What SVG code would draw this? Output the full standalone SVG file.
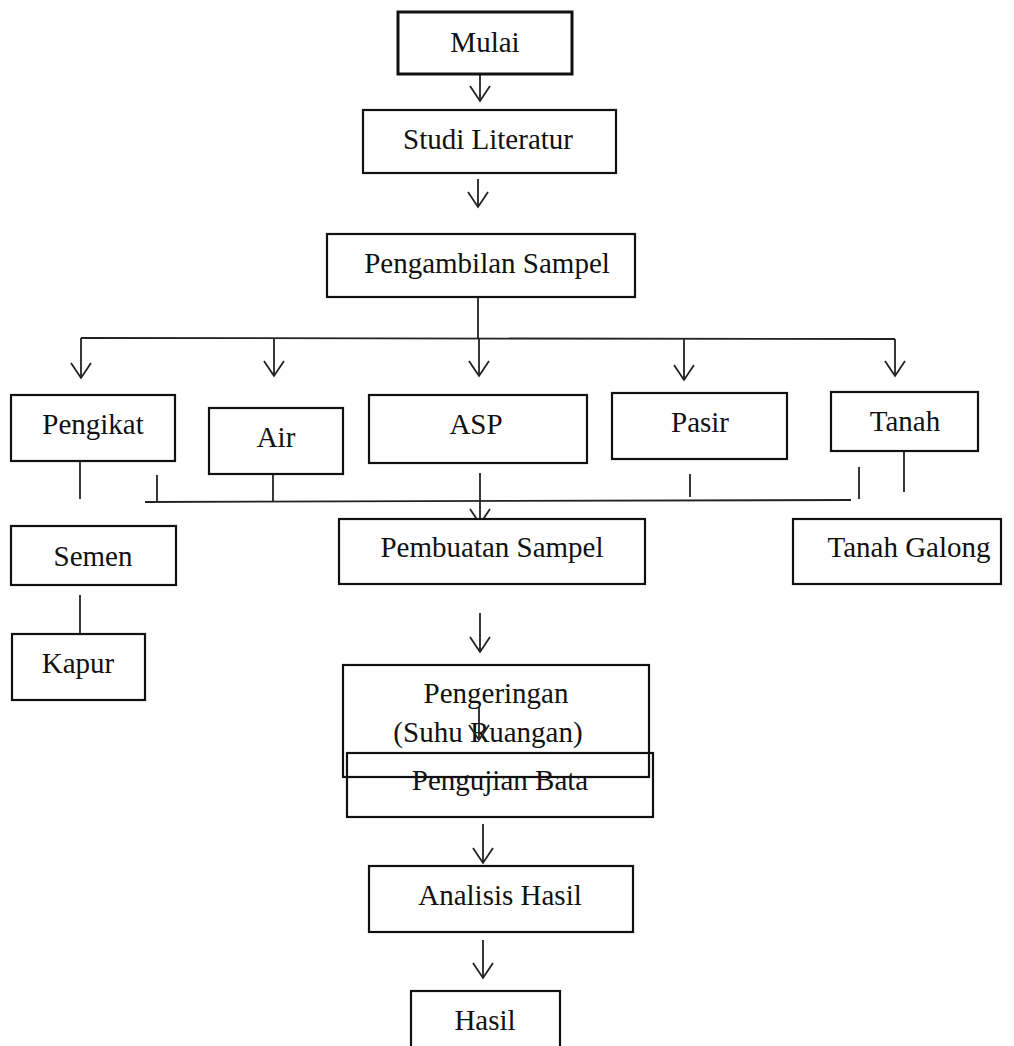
<svg xmlns="http://www.w3.org/2000/svg" width="1014" height="1046" viewBox="0 0 1014 1046">
<style>
.box{fill:#fff;stroke:#111;stroke-width:2.2}
.t{font-family:"Liberation Serif","Times New Roman",serif;font-size:29px;fill:#111;text-anchor:middle}
.c{fill:none;stroke:#222;stroke-width:1.8}
</style>
<defs>
<marker id="ah" markerWidth="20" markerHeight="24" refX="17" refY="11" viewBox="0 0 20 24" markerUnits="userSpaceOnUse" orient="auto">
<path d="M2,1 L17,11 L2,21" fill="none" stroke="#222" stroke-width="1.8"/>
</marker>
</defs>
<rect width="1014" height="1046" fill="#fff"/>
<g id="connectors">
<line class="c" x1="480" y1="74" x2="480" y2="101" marker-end="url(#ah)"/>
<line class="c" x1="478" y1="179" x2="478" y2="207" marker-end="url(#ah)"/>
<line class="c" x1="478" y1="297" x2="478" y2="339"/>
<line class="c" x1="81" y1="338" x2="895" y2="339"/>
<line class="c" x1="81" y1="338" x2="81" y2="378" marker-end="url(#ah)"/>
<line class="c" x1="274" y1="338" x2="274" y2="376" marker-end="url(#ah)"/>
<line class="c" x1="479" y1="338" x2="479" y2="376" marker-end="url(#ah)"/>
<line class="c" x1="684" y1="339" x2="684" y2="380" marker-end="url(#ah)"/>
<line class="c" x1="895" y1="339" x2="895" y2="376" marker-end="url(#ah)"/>
<line class="c" x1="80" y1="461" x2="80" y2="499"/>
<line class="c" x1="157" y1="475" x2="157" y2="502"/>
<line class="c" x1="273" y1="474" x2="273" y2="502"/>
<line class="c" x1="145" y1="502" x2="851" y2="500"/>
<line class="c" x1="480" y1="473" x2="480" y2="524" marker-end="url(#ah)"/>
<line class="c" x1="690" y1="474" x2="690" y2="497"/>
<line class="c" x1="859" y1="467" x2="859" y2="499"/>
<line class="c" x1="904" y1="452" x2="904" y2="492"/>
<line class="c" x1="80" y1="595" x2="80" y2="634"/>
<line class="c" x1="480" y1="613" x2="480" y2="652" marker-end="url(#ah)"/>
<line class="c" x1="483" y1="824" x2="483" y2="863" marker-end="url(#ah)"/>
<line class="c" x1="483" y1="940" x2="483" y2="978" marker-end="url(#ah)"/>
</g>
<g id="mulai"><rect class="box" x="398" y="12" width="174" height="62" style="stroke-width:3"/><text class="t" x="485" y="52">Mulai</text></g>
<g id="studi"><rect class="box" x="363" y="110" width="253" height="63"/><text class="t" x="488" y="149">Studi Literatur</text></g>
<g id="pengambilan"><rect class="box" x="327" y="234" width="308" height="63"/><text class="t" x="487" y="273">Pengambilan Sampel</text></g>
<g id="pengikat"><rect class="box" x="11" y="395" width="164" height="66"/><text class="t" x="93" y="434">Pengikat</text></g>
<g id="air"><rect class="box" x="209" y="408" width="134" height="66"/><text class="t" x="276" y="447">Air</text></g>
<g id="asp"><rect class="box" x="369" y="395" width="218" height="68"/><text class="t" x="476" y="434">ASP</text></g>
<g id="pasir"><rect class="box" x="612" y="393" width="175" height="66"/><text class="t" x="700" y="432">Pasir</text></g>
<g id="tanah"><rect class="box" x="831" y="392" width="147" height="59"/><text class="t" x="905" y="431">Tanah</text></g>
<g id="semen"><rect class="box" x="11" y="526" width="165" height="59"/><text class="t" x="93" y="566">Semen</text></g>
<g id="kapur"><rect class="box" x="12" y="634" width="133" height="66"/><text class="t" x="78" y="673">Kapur</text></g>
<g id="pembuatan"><rect class="box" x="339" y="519" width="306" height="65"/><text class="t" x="492" y="557">Pembuatan Sampel</text></g>
<g id="tanahgalong"><rect class="box" x="793" y="519" width="208" height="65"/><text class="t" x="909" y="557">Tanah Galong</text></g>
<g id="pengeringan"><rect class="box" x="343" y="665" width="306" height="112" style="fill:none"/><text class="t" x="496" y="703">Pengeringan</text><text class="t" x="488" y="742">(Suhu Ruangan)</text></g>
<g id="inner-arrow"><line class="c" x1="479" y1="707" x2="479" y2="740" marker-end="url(#ah)"/></g>
<g id="pengujian"><rect class="box" x="347" y="753" width="306" height="64" style="fill:none"/><text class="t" x="500" y="790">Pengujian Bata</text></g>
<g id="analisis"><rect class="box" x="369" y="866" width="264" height="66"/><text class="t" x="500" y="905">Analisis Hasil</text></g>
<g id="hasil"><rect class="box" x="411" y="991" width="149" height="70"/><text class="t" x="485" y="1030">Hasil</text></g>
</svg>
